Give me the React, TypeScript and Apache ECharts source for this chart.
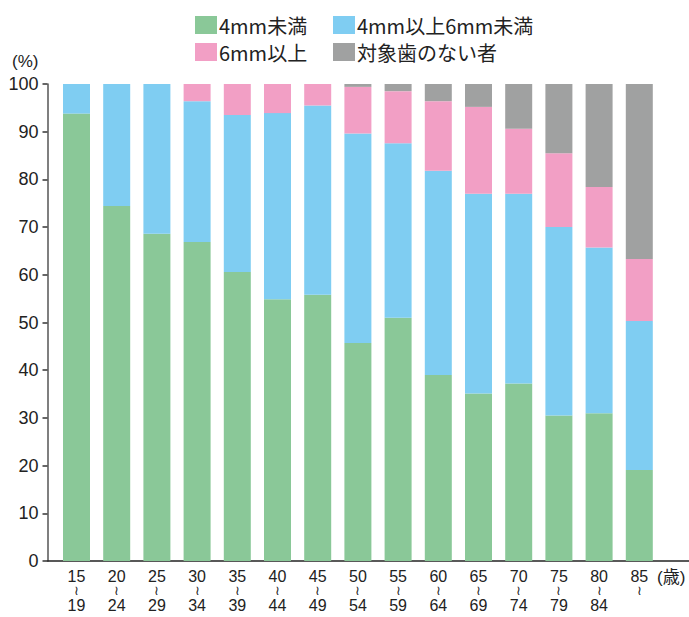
import React, { useEffect, useRef } from "react";
import * as echarts from "echarts";

const ageStart = ["15", "20", "25", "30", "35", "40", "45", "50", "55", "60", "65", "70", "75", "80", "85"];
const ageEnd = ["19", "24", "29", "34", "39", "44", "49", "54", "59", "64", "69", "74", "79", "84", ""];
const seriesNames = ["4mm未満", "4mm以上6mm未満", "6mm以上", "対象歯のない者"];
const under4 = [93.8, 74.4, 68.6, 66.9, 60.6, 54.9, 55.8, 45.7, 51.0, 39.0, 35.1, 37.2, 30.5, 31.0, 19.1];
const from4to6 = [6.2, 25.6, 31.4, 29.5, 32.9, 39.0, 39.7, 43.9, 36.6, 42.8, 41.9, 39.8, 39.5, 34.7, 31.2];
const over6 = [0, 0, 0, 3.6, 6.5, 6.1, 4.5, 9.8, 10.9, 14.6, 18.2, 13.6, 15.5, 12.7, 13.0];
const noTeeth = [0, 0, 0, 0, 0, 0, 0, 0.6, 1.5, 3.6, 4.8, 9.4, 14.5, 21.6, 36.7];
const colors = ["#8AC898", "#7FCDF2", "#F29FC5", "#A0A1A1"];
const yUnit = "(%)";
const xUnit = "(歳)";

const LATIN = "'Liberation Sans', 'Noto Sans CJK JP', sans-serif";
const CJK = "'Noto Sans CJK JP', sans-serif";

export default function App() {
  const ref = useRef<HTMLDivElement>(null);
  useEffect(() => {
    if (!ref.current) return;
    const chart = echarts.init(ref.current, undefined, { renderer: "svg" });
    const categories = ageStart.map((s, i) =>
      ageEnd[i] ? `{n|${s}}\n{w|≀}\n{n|${ageEnd[i]}}` : `{n|${s}}\n{w|≀}`
    );
    const values = [under4, from4to6, over6, noTeeth];
    const legendBase = {
      orient: "vertical" as const,
      top: 10,
      itemWidth: 22,
      itemHeight: 18,
      itemGap: 7,
      icon: "rect",
      selectedMode: false,
      textStyle: { fontSize: 20, lineHeight: 20, fontFamily: CJK, color: "#222", padding: [0, 0, 0, -3] },
    };
    chart.setOption({
      animation: false,
      backgroundColor: "#fff",
      legend: [
        { ...legendBase, left: 190, data: [seriesNames[0], seriesNames[2]] },
        { ...legendBase, left: 328, data: [seriesNames[1], seriesNames[3]] },
      ],
      grid: [
        { left: 56.4, width: 603, top: 84, height: 477 },
        { left: 47.5, right: 0, top: 84, height: 477 },
      ],
      xAxis: [
        {
          type: "category",
          gridIndex: 0,
          data: categories,
          axisLine: { show: false },
          axisTick: { show: false },
          axisLabel: {
            interval: 0,
            margin: 7,
            color: "#222",
            rich: {
              n: { fontSize: 16, lineHeight: 16, fontFamily: LATIN, color: "#222" },
              w: { fontSize: 13, lineHeight: 13, fontFamily: LATIN, color: "#222" },
            },
          },
        },
        {
          type: "value",
          gridIndex: 1,
          min: 0,
          max: 1,
          axisLine: { show: true, lineStyle: { color: "#222", width: 1.5 } },
          axisTick: { show: false },
          axisLabel: { show: false },
          splitLine: { show: false },
        },
      ],
      yAxis: [
        { type: "value", gridIndex: 0, min: 0, max: 100, show: false },
        {
          type: "value",
          gridIndex: 1,
          min: 0,
          max: 100,
          interval: 10,
          axisLine: { show: true, lineStyle: { color: "#555", width: 1.5 } },
          axisTick: { show: true, length: 5, lineStyle: { color: "#333", width: 1.5 } },
          axisLabel: { margin: 9, fontSize: 18, fontFamily: LATIN, color: "#222" },
          splitLine: { show: false },
        },
      ],
      graphic: [
        { type: "text", left: 12, top: 53, style: { text: yUnit, fontSize: 17, fontFamily: LATIN, fill: "#222" } },
        { type: "text", left: 657, top: 569, style: { text: xUnit, fontSize: 17, fontFamily: LATIN, fill: "#222" } },
      ],
      series: values.map((v, i) => ({
        name: seriesNames[i],
        type: "bar",
        stack: "total",
        xAxisIndex: 0,
        yAxisIndex: 0,
        barWidth: 27,
        itemStyle: { color: colors[i] },
        data: v,
      })),
    });
    return () => chart.dispose();
  }, []);
  return (
    <div
      ref={ref}
      style={{ position: "fixed", left: 0, top: 0, width: 689, height: 617, background: "#fff" }}
    />
  );
}
